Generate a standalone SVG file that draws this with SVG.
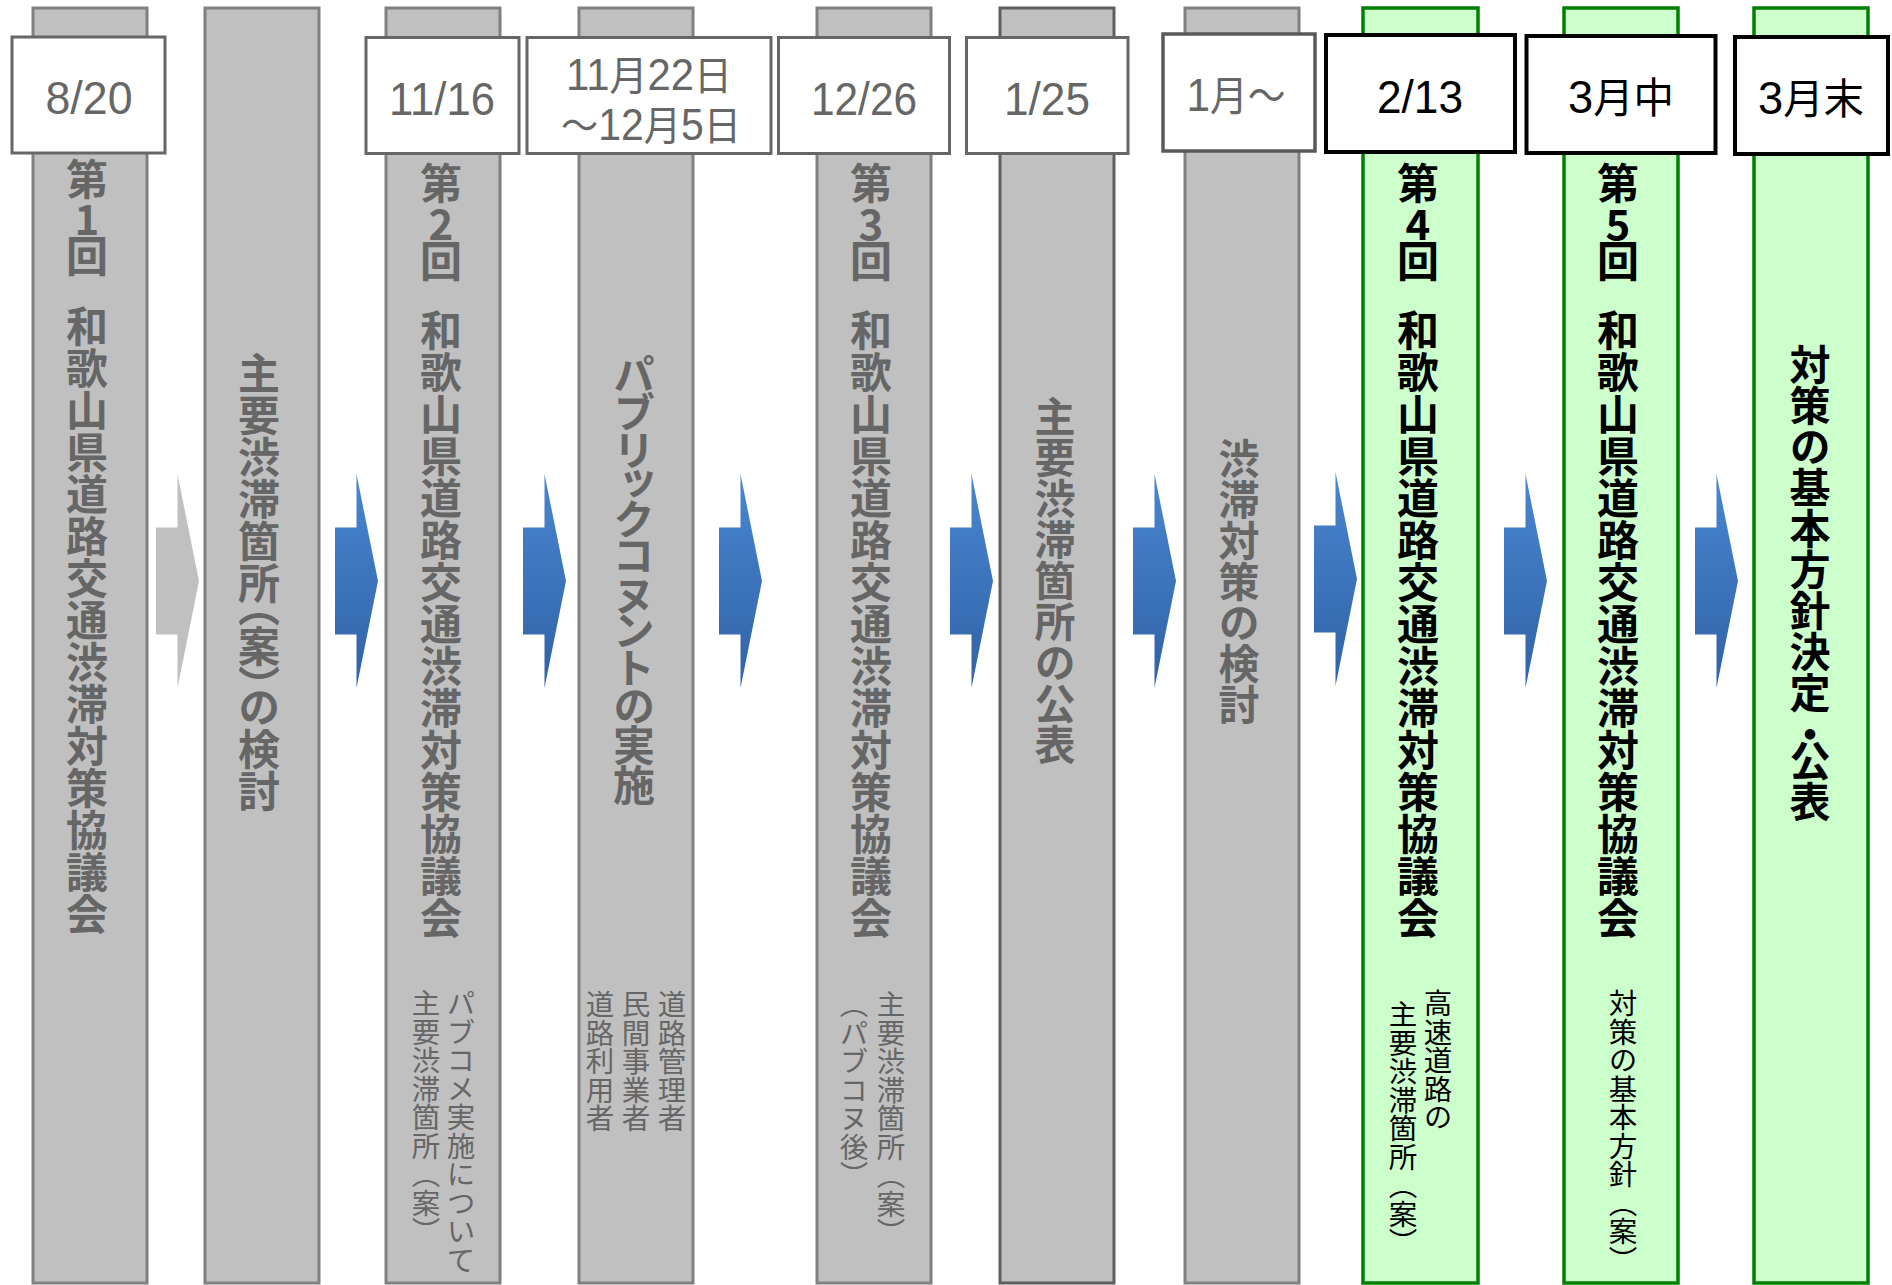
<svg xmlns="http://www.w3.org/2000/svg" width="1892" height="1285" viewBox="0 0 1892 1285">
<style>
.bar{fill:#C0C0C0;stroke:#808080;stroke-width:3}
.bar.d{stroke:#5F5F5F}
.gbar{fill:#CCFFCC;stroke:#008000;stroke-width:3.5}
.box{fill:#fff;stroke:#666;stroke-width:3}
.kbox{fill:#fff;stroke:#000;stroke-width:4}
.date{font-family:"Liberation Sans","Noto Sans CJK JP",sans-serif;font-size:47px;text-anchor:middle;fill:#666}
.date.k{fill:#000}
.cj{font-size:42px}
.v{font-family:"Noto Sans CJK JP",sans-serif;writing-mode:vertical-rl;text-orientation:upright}
.num{font-family:"Noto Sans CJK JP",sans-serif;font-size:42px;font-weight:bold;text-anchor:middle}
.big{font-size:42px;font-weight:bold}
.mid{font-size:41px;font-weight:bold}
.p{font-feature-settings:"vpal"}
.sm{font-size:28.5px}
.g{fill:#666}
.k{fill:#000}
</style>
<defs>
<linearGradient id="blue" x1="0" y1="0" x2="0" y2="1">
<stop offset="0" stop-color="#4986D0"/>
<stop offset="1" stop-color="#3062A6"/>
</linearGradient>
<path id="arr" d="M0,53.5 H21.5 V0 L43,107 L21.5,214 V160.5 H0 Z"/>
</defs>

<g id="n1">
<rect class="bar" x="33" y="8" width="114" height="1275"/>
<rect class="box" x="12" y="37" width="153" height="116"/>
<text class="date" x="89" y="114" textLength="87" lengthAdjust="spacingAndGlyphs">8/20</text>
<text class="v big g" x="87" y="158">第</text>
<text class="num g" x="87" y="235">1</text>
<text class="v big g" x="87" y="235">回</text>
<text class="v big g" x="87" y="305">和歌山県道路交通渋滞対策協議会</text>
</g>

<g id="n2">
<rect class="bar" x="205" y="8" width="114" height="1275"/>
<text class="v big g p" x="259" y="352">主要渋滞箇所（案）の検討</text>
</g>

<g id="n3">
<rect class="bar" x="386" y="8" width="114" height="1275"/>
<rect class="box" x="366" y="37.5" width="153" height="116"/>
<text class="date" x="442" y="114.5" textLength="106" lengthAdjust="spacingAndGlyphs">11/16</text>
<text class="v big g" x="441" y="162">第</text>
<text class="num g" x="441" y="240">2</text>
<text class="v big g" x="441" y="240">回</text>
<text class="v big g" x="441" y="309">和歌山県道路交通渋滞対策協議会</text>
<text class="v sm g" x="461" y="989">パブコメ実施について</text>
<text class="v sm g" x="426" y="989">主要渋滞箇所（案）</text>
</g>

<g id="n4">
<rect class="bar" x="579" y="8" width="114" height="1275"/>
<rect class="box" x="527" y="37.5" width="244" height="116"/>
<text class="date" x="649" y="90" style="font-size:44px" textLength="166" lengthAdjust="spacingAndGlyphs">11<tspan style="font-size:40px">月</tspan>22<tspan style="font-size:40px">日</tspan></text>
<text class="date" x="651" y="140" style="font-size:44px" textLength="180" lengthAdjust="spacingAndGlyphs"><tspan style="font-size:40px">～</tspan>12<tspan style="font-size:40px">月</tspan>5<tspan style="font-size:40px">日</tspan></text>
<text class="v big g p" x="634" y="354" style="letter-spacing:-2px">パブリックコヌントの実施</text>
<text class="v sm g" x="672" y="990">道路管理者</text>
<text class="v sm g" x="636" y="990">民間事業者</text>
<text class="v sm g" x="600" y="990">道路利用者</text>
</g>

<g id="n5">
<rect class="bar" x="817" y="8" width="114" height="1275"/>
<rect class="box" x="778.5" y="37.5" width="171" height="116"/>
<text class="date" x="864" y="114.5" textLength="106" lengthAdjust="spacingAndGlyphs">12/26</text>
<text class="v big g" x="871" y="162">第</text>
<text class="num g" x="871" y="240">3</text>
<text class="v big g" x="871" y="240">回</text>
<text class="v big g" x="871" y="309">和歌山県道路交通渋滞対策協議会</text>
<text class="v sm g" x="891" y="990">主要渋滞箇所（案）</text>
<text class="v sm g" x="854" y="990">（パブコヌ後）</text>
</g>

<g id="n6">
<rect class="bar d" x="1000" y="8" width="114" height="1275"/>
<rect class="box" x="966.5" y="37.5" width="161.5" height="116"/>
<text class="date" x="1047" y="114.5" textLength="86" lengthAdjust="spacingAndGlyphs">1/25</text>
<text class="v mid g" x="1055" y="396">主要渋滞箇所の公表</text>
</g>

<g id="n7">
<rect class="bar" x="1185" y="8" width="114" height="1275"/>
<rect class="box" x="1163" y="34" width="152" height="117" style="stroke:#595959;stroke-width:3.5"/>
<text class="date" x="1236" y="111" textLength="99" lengthAdjust="spacingAndGlyphs">1<tspan class="cj">月～</tspan></text>
<text class="v mid g" x="1239" y="438">渋滞対策の検討</text>
</g>

<g id="n8">
<rect class="gbar" x="1363" y="8" width="115" height="1275"/>
<rect class="kbox" x="1326" y="35" width="189" height="117"/>
<text class="date k" x="1420" y="112.5" textLength="86" lengthAdjust="spacingAndGlyphs">2/13</text>
<text class="v big k" x="1418" y="162">第</text>
<text class="num k" x="1418" y="240">4</text>
<text class="v big k" x="1418" y="240">回</text>
<text class="v big k" x="1418" y="309">和歌山県道路交通渋滞対策協議会</text>
<text class="v sm k" x="1438" y="989">高速道路の</text>
<text class="v sm k" x="1403" y="1000">主要渋滞箇所（案）</text>
</g>

<g id="n9">
<rect class="gbar" x="1564" y="8" width="114" height="1275"/>
<rect class="kbox" x="1526.5" y="36" width="189" height="117"/>
<text class="date k" x="1621" y="113" textLength="106" lengthAdjust="spacingAndGlyphs">3<tspan class="cj">月中</tspan></text>
<text class="v big k" x="1618" y="162">第</text>
<text class="num k" x="1618" y="240">5</text>
<text class="v big k" x="1618" y="240">回</text>
<text class="v big k" x="1618" y="309">和歌山県道路交通渋滞対策協議会</text>
<text class="v sm k" x="1623" y="989">対策の基本方針（案）</text>
</g>

<g id="n10">
<rect class="gbar" x="1754" y="8" width="114" height="1275"/>
<rect class="kbox" x="1735" y="37" width="153" height="117"/>
<text class="date k" x="1811" y="114" textLength="106" lengthAdjust="spacingAndGlyphs">3<tspan class="cj">月末</tspan></text>
<text class="v mid k" x="1810" y="344">対策の基本方針決定</text>
<text class="v mid k" x="1810" y="714">・</text>
<text class="v mid k" x="1810" y="740">公表</text>
</g>

<g id="connectors">
<use href="#arr" transform="translate(156,474)" fill="#C0C0C0"/>
<use href="#arr" transform="translate(335,474)" fill="url(#blue)"/>
<use href="#arr" transform="translate(523,474)" fill="url(#blue)"/>
<use href="#arr" transform="translate(719,474)" fill="url(#blue)"/>
<use href="#arr" transform="translate(950,474)" fill="url(#blue)"/>
<use href="#arr" transform="translate(1133,474)" fill="url(#blue)"/>
<use href="#arr" transform="translate(1314,472)" fill="url(#blue)"/>
<use href="#arr" transform="translate(1504,474)" fill="url(#blue)"/>
<use href="#arr" transform="translate(1695,474)" fill="url(#blue)"/>
</g>
</svg>
